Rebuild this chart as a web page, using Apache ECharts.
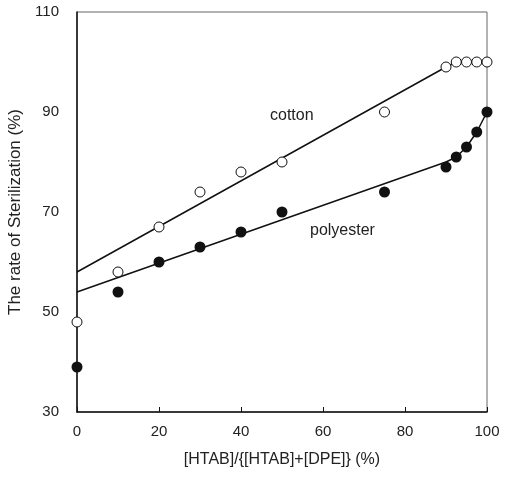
<!DOCTYPE html>
<html>
<head>
<meta charset="utf-8">
<script src="https://cdn.jsdelivr.net/npm/echarts@6/dist/echarts.min.js"></script>
<style>
  html, body { margin: 0; padding: 0; background: #fff; }
  #chart { width: 506px; height: 492px; }
</style>
</head>
<body>
<div id="chart"></div>
<script>
// 横軸: [HTAB]/{[HTAB]+[DPE]} (%)
const ratio = [0, 10, 20, 30, 40, 50, 75, 90, 92.5, 95, 97.5, 100]
const cotton = [48, 58, 67, 74, 78, 80, 90, 99, 100, 100, 100, 100]
const polyester = [39, 54, 60, 63, 66, 70, 74, 79, 81, 83, 86, 90]

// 回帰線
const cottonFitX = [0, 90, 92.5, 100]
const cottonFitY = [58, 99, 100, 100]
const polyFitX = [0, 90, 92.5, 95, 97.5, 100]
const polyFitY = [54, 80, 81, 83, 86, 90]

const xTicks = [0, 20, 40, 60, 80, 100]
const yTicks = [30, 50, 70, 90, 110]

const pairs = (xs, ys) => xs.map((x, i) => [x, ys[i]])
const font = '"Liberation Sans", Arial, sans-serif'

const myChart = echarts.init(document.getElementById('chart'))

myChart.setOption({
  animation: false,
  backgroundColor: '#fff',
  grid: {
    left: 77, right: 19, top: 12, bottom: 80,
    outerBoundsMode: 'none', containLabel: false,
    show: true, borderColor: '#666', borderWidth: 1
  },
  xAxis: {
    type: 'value', min: 0, max: 100, interval: 20,
    name: '[HTAB]/{[HTAB]+[DPE]} (%)',
    nameLocation: 'middle', nameGap: 40,
    nameTextStyle: { color: '#222', fontSize: 16, fontFamily: font },
    axisLine: { lineStyle: { color: '#111', width: 1.5 } },
    axisTick: { inside: true, length: 5, lineStyle: { color: '#111' } },
    axisLabel: { color: '#222', fontSize: 15, fontFamily: font, margin: 12,
      formatter: v => xTicks.includes(v) ? String(v) : '' },
    splitLine: { show: false }
  },
  yAxis: {
    type: 'value', min: 30, max: 110, interval: 20,
    name: 'The rate of Sterilization (%)',
    nameLocation: 'middle', nameGap: 48,
    nameTextStyle: { color: '#222', fontSize: 17, fontFamily: font },
    axisLine: { show: true, lineStyle: { color: '#111', width: 1.5 } },
    axisTick: { show: false },
    axisLabel: { color: '#222', fontSize: 15, fontFamily: font, margin: 18,
      formatter: v => yTicks.includes(v) ? String(v) : '' },
    splitLine: { show: false }
  },
  series: [
    {
      name: 'cotton fit', type: 'line', data: pairs(cottonFitX, cottonFitY),
      symbol: 'none', lineStyle: { color: '#111', width: 1.5 }, z: 2
    },
    {
      name: 'polyester fit', type: 'line', data: pairs(polyFitX, polyFitY),
      symbol: 'none', lineStyle: { color: '#111', width: 1.5 }, z: 2
    },
    {
      name: 'cotton', type: 'scatter', data: pairs(ratio, cotton),
      symbol: 'circle', symbolSize: 10,
      itemStyle: { color: '#fff', borderColor: '#111', borderWidth: 1, opacity: 1 }, z: 3
    },
    {
      name: 'polyester', type: 'scatter', data: pairs(ratio, polyester),
      symbol: 'circle', symbolSize: 11,
      itemStyle: { color: '#111', opacity: 1 }, z: 3
    }
  ],
  graphic: [
    { type: 'text', left: 270, top: 108,
      style: { text: 'cotton', fill: '#222', fontSize: 16, fontFamily: font } },
    { type: 'text', left: 310, top: 223,
      style: { text: 'polyester', fill: '#222', fontSize: 16, fontFamily: font } }
  ]
})
</script>
</body>
</html>
